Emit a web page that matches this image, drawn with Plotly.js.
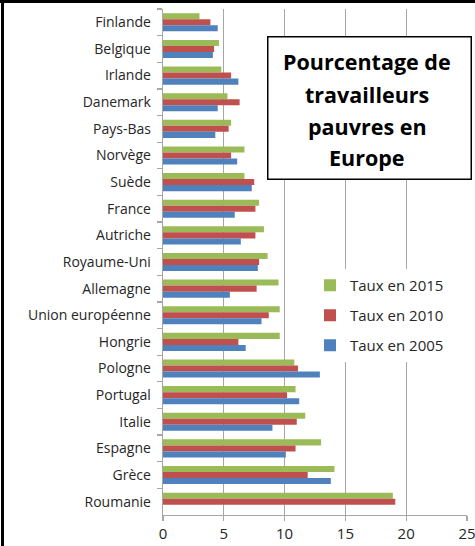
<!DOCTYPE html>
<html>
<head>
<meta charset="utf-8">
<script src="https://cdn.plot.ly/plotly-3.0.1.min.js"></script>
<style>
  html, body { margin: 0; padding: 0; background: #fff; }
  #chart { width: 475px; height: 546px; }
</style>
</head>
<body>
<div id="chart"></div>
<script>
// Categories, top to bottom
const countries = ["Finlande","Belgique","Irlande","Danemark","Pays-Bas","Norvège","Suède","France","Autriche","Royaume-Uni","Allemagne","Union européenne","Hongrie","Pologne","Portugal","Italie","Espagne","Grèce","Roumanie"];
const taux2015 = [3.0,4.6,4.8,5.3,5.6,6.7,6.7,7.9,8.3,8.6,9.5,9.6,9.6,10.8,10.9,11.7,13.0,14.1,18.9];
const taux2010 = [3.9,4.2,5.6,6.3,5.4,5.6,7.5,7.6,7.6,7.9,7.7,8.7,6.2,11.1,10.2,11.0,10.9,11.9,19.1];
const taux2005 = [4.5,4.1,6.2,4.5,4.3,6.1,7.3,5.9,6.4,7.8,5.5,8.1,6.8,12.9,11.2,9.0,10.1,13.8,null];
const seriesNames = ["Taux en 2015","Taux en 2010","Taux en 2005"];
const xTicks = [0,5,10,15,20,25];
const titleLines = ["Pourcentage de","travailleurs","pauvres en","Europe"];

const FONT = "Open Sans, Liberation Sans, sans-serif";
const colors = ["#9BBB59","#C0504D","#4F81BD"];
const values = [taux2015, taux2010, taux2005];

const traces = values.map((v, i) => ({
  type: "bar",
  orientation: "h",
  name: seriesNames[i],
  y: countries,
  x: v,
  marker: { color: colors[i] },
  legendgroup: "g" + i,
  hoverinfo: "x+y+name"
}));

const L = 163, R = 8, T = 9, B = 31, W = 475, H = 546;
const pw = W - L - R, ph = H - T - B;
const px = p => (p - L) / pw;
const py = p => (H - B - p) / ph;

const titleY = [62, 94.5, 126.5, 157.5];
const annotations = [{
  xref: "paper", yref: "paper",
  x: px(369), y: py(107.5), xanchor: "center", yanchor: "middle",
  text: " ",
  showarrow: false,
  bgcolor: "#ffffff",
  bordercolor: "#000000", borderwidth: 1.5,
  width: 200, height: 139
}].concat(titleLines.map((t, i) => ({
  xref: "paper", yref: "paper",
  x: px(367), y: py(titleY[i]), xanchor: "center", yanchor: "middle",
  text: "<b>" + t + "</b>",
  showarrow: false,
  font: { family: FONT, size: 21.5, color: "#000000" }
})));

const layout = {
  width: W, height: H,
  margin: { l: L, r: R, t: T, b: B, pad: 0 },
  paper_bgcolor: "#ffffff",
  plot_bgcolor: "#ffffff",
  font: { family: FONT, size: 14, color: "#262626" },
  barmode: "group",
  bargap: 0.32,
  bargroupgap: 0,
  showlegend: true,
  legend: {
    x: px(310), y: py(269), xanchor: "left", yanchor: "top",
    bgcolor: "#ffffff", borderwidth: 0,
    font: { family: FONT, size: 15, color: "#262626" },
    tracegroupgap: 7.5,
    traceorder: "grouped",
    itemwidth: 30
  },
  xaxis: {
    range: [0, 25],
    tickvals: xTicks,
    ticktext: xTicks.map(String),
    showgrid: true, gridcolor: "#a6a6a6", gridwidth: 1.3,
    zeroline: false,
    showline: true, linecolor: "#a6a6a6", linewidth: 1.3,
    ticks: "outside", ticklen: 5, tickcolor: "#a6a6a6", tickwidth: 1.3,
    tickfont: { family: FONT, size: 15, color: "#262626" },
    ticklabeloverflow: "allow",
    fixedrange: true
  },
  yaxis: {
    type: "category",
    categoryorder: "array",
    categoryarray: countries,
    autorange: "reversed",
    showgrid: false,
    zeroline: false,
    showline: true, linecolor: "#a6a6a6", linewidth: 1.3,
    ticks: "outside", tickson: "boundaries", ticklen: 5, tickcolor: "#a6a6a6", tickwidth: 1.3,
    tickfont: { family: FONT, size: 14, color: "#262626" },
    ticklabelstandoff: 8,
    fixedrange: true
  },
  annotations: annotations,
  shapes: [
    { type: "line", xref: "paper", yref: "paper", x0: px(0), x1: px(W), y0: py(1.5), y1: py(1.5), line: { color: "#000", width: 3 }, layer: "above" },
    { type: "line", xref: "paper", yref: "paper", x0: px(2.5), x1: px(2.5), y0: py(0), y1: py(H), line: { color: "#000", width: 3 }, layer: "above" }
  ]
};

Plotly.newPlot("chart", traces, layout, { displayModeBar: false, staticPlot: true });
</script>
</body>
</html>
